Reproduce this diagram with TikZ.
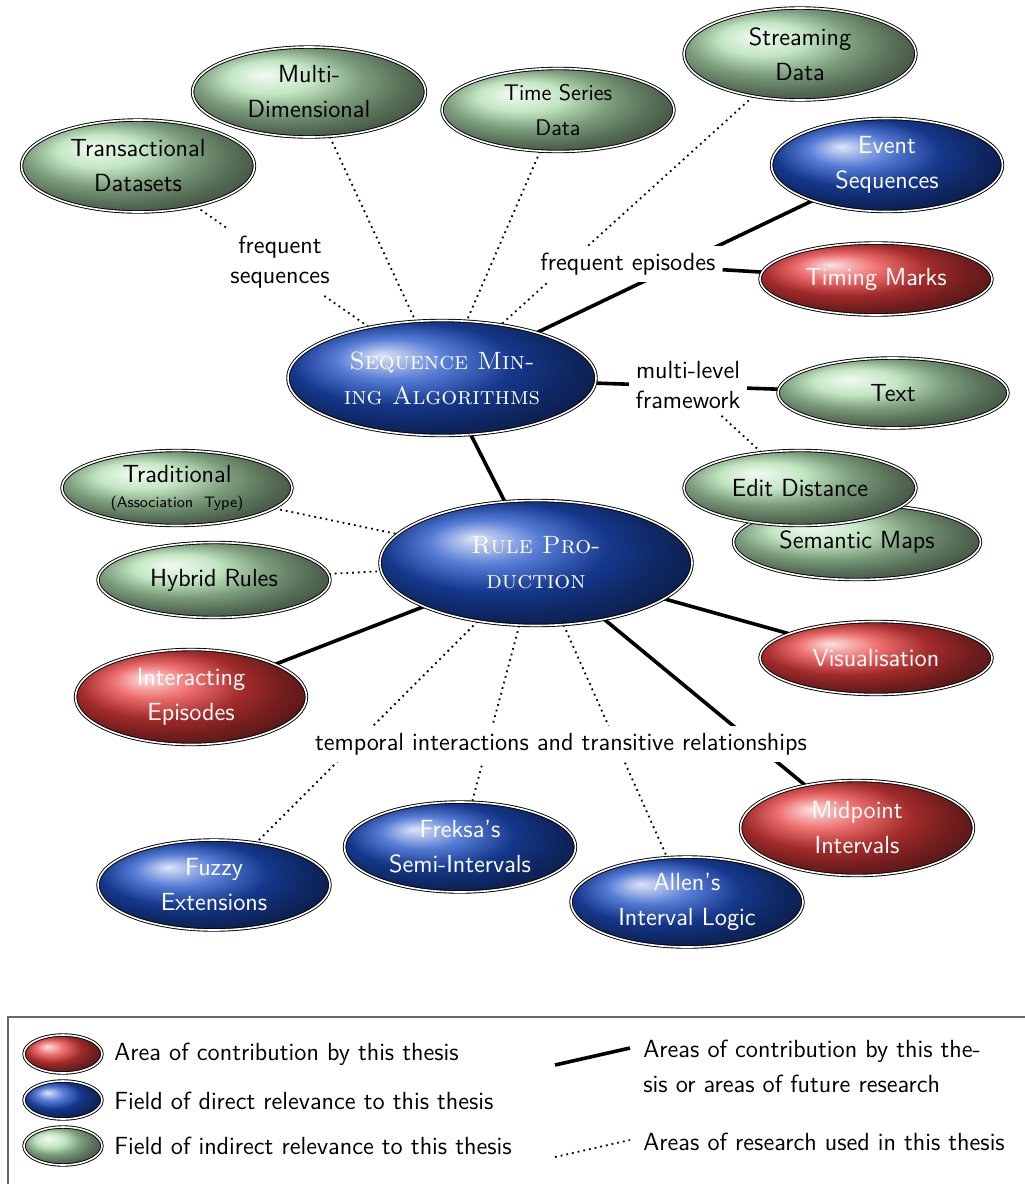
\documentclass[tikz,border=0pt]{standalone}
\usepackage{fontspec}
\usetikzlibrary{shapes.geometric,backgrounds}
\definecolor{nodeblue}{RGB}{30,80,200}
\definecolor{nodered}{RGB}{230,60,60}
\definecolor{nodegreen}{RGB}{175,222,175}
\tikzset{
  bubble/.style={ellipse, draw=black, double=white, double distance=0.8pt,
    line width=0.45pt, inner sep=0pt, align=center,
    font=\sffamily\fontsize{12.4}{17.5}\selectfont},
  contrib/.style={bubble, ball color=nodered, text=white},
  direct/.style={bubble, ball color=nodeblue, text=white},
  indirect/.style={bubble, ball color=nodegreen, text=black},
  core/.style={direct, font=\rmfamily\scshape\fontsize{12.5}{17.5}\selectfont},
  sz/.style 2 args={minimum width=#1, minimum height=#2},
  strong/.style={line width=1.8pt},
  weak/.style={dotted, line width=0.9pt},
  tag/.style={fill=white, align=center, font=\sffamily\fontsize{12.4}{15}\selectfont},
  keytext/.style={anchor=west, align=left, inner sep=0pt,
    font=\sffamily\fontsize{12.4}{17.5}\selectfont},
}
\begin{document}
\begin{tikzpicture}[x=0.5pt, y=-0.5pt]
\useasboundingbox (0,0) rectangle (1024,1184);

% core topics
\node[core, sz={154pt}{57.5pt}] (sma) at (442,378) {Sequence Min-\\ing Algorithms};
\node[core, sz={156pt}{62.5pt}] (rp) at (536,563) {Rule Pro-\\duction};

% data sources
\node[indirect, sz={116.5pt}{46pt}] (trans) at (138,166) {Transactional\\Datasets};
\node[indirect, sz={116.5pt}{45pt}] (multi) at (309,92) {Multi-\\Dimensional};
\node[indirect, sz={116pt}{41.5pt}, font=\sffamily\fontsize{11.3}{17.5}\selectfont] (tseries) at (558,110) {Time Series\\Data};
\node[indirect, sz={116pt}{46pt}] (stream) at (800,54) {Streaming\\Data};
\node[direct, sz={115.5pt}{46.5pt}] (event) at (887,165) {Event\\Sequences};
\node[contrib, sz={116pt}{36pt}] (timing) at (876,279) {Timing Marks};

% right-hand topics
\node[indirect, sz={115pt}{35pt}] (text) at (893,393) {Text};
\node[indirect, sz={123.5pt}{37.5pt}] (semantic) at (857,542) {Semantic Maps};
\node[indirect, sz={116pt}{37.5pt}] (edit) at (800,488) {Edit Distance};
\node[contrib, sz={116pt}{36.5pt}] (vis) at (876,658) {Visualisation};
\node[contrib, sz={116.5pt}{47.5pt}] (midpoint) at (857,828) {Midpoint\\Intervals};

% left-hand topics
\node[indirect, sz={115pt}{37.5pt}] (trad) at (177,488) {Traditional\\[-5pt]{\fontsize{7.6}{9}\selectfont (Association\ \ Type)}};
\node[indirect, sz={116pt}{37.5pt}] (hybrid) at (214,580) {Hybrid Rules};
\node[contrib, sz={115.5pt}{47.5pt}] (interact) at (191,697) {Interacting\\Episodes};

% temporal models
\node[direct, sz={116pt}{45pt}] (fuzzy) at (214,885) {Fuzzy\\Extensions};
\node[direct, sz={115.5pt}{45pt}] (freksa) at (460,847) {Freksa's\\Semi-Intervals};
\node[direct, sz={116pt}{45pt}] (allen) at (687,902) {Allen's\\Interval Logic};

% connector labels
\node[tag] (freqseq) at (280,262) {frequent\\sequences};
\node[tag] (freqep) at (628,264) {frequent episodes};
\node[tag] (mlf) at (688,385) {multi-level\\framework};
\node[tag] (temporal) at (561,744) {temporal\ interactions\ and\ transitive\ relationships};

\begin{scope}[on background layer]
  \draw[weak] (trans) -- (sma);
  \draw[weak] (multi) -- (sma);
  \draw[weak] (tseries) -- (sma);
  \draw[weak] (stream) -- (sma);
  \draw[strong] (sma) -- (event);
  \draw[strong] (freqep) -- (timing);
  \draw[strong] (sma) -- (text);
  \draw[weak] (mlf) -- (edit);
  \draw[strong] (sma) -- (rp);
  \draw[weak] (trad) -- (rp);
  \draw[weak] (hybrid) -- (rp);
  \draw[strong] (rp) -- (interact);
  \draw[strong] (rp) -- (vis);
  \draw[strong] (rp) -- (midpoint);
  \draw[weak] (rp) -- (fuzzy);
  \draw[weak] (rp) -- (freksa);
  \draw[weak] (rp) -- (allen);
\end{scope}

% key
\draw[black!60, line width=0.6pt] (8,1017) rectangle (1040,1200);
\node[contrib, sz={39pt}{19pt}] (kred) at (63,1054) {};
\node[direct, sz={39pt}{19pt}] (kblue) at (63,1100) {};
\node[indirect, sz={39pt}{19pt}] (kgreen) at (63,1146) {};
\node[keytext] (tred) at (114,1054) {Area of contribution by this thesis};
\node[keytext] (tblue) at (114,1101) {Field of direct relevance to this thesis};
\node[keytext] (tgreen) at (114,1146) {Field of indirect relevance to this thesis};
\coordinate (ks1) at (555,1065);
\coordinate (ke1) at (630,1048);
\coordinate (ks2) at (555,1157);
\coordinate (ke2) at (630,1140);
\draw[strong] (ks1) -- (ke1);
\draw[weak] (ks2) -- (ke2);
\node[keytext] (tstrong) at (643,1066) {Areas of contribution by this the-\\sis or areas of future research};
\node[keytext] (tweak) at (643,1142) {Areas of research used in this thesis};
\end{tikzpicture}
\end{document}
